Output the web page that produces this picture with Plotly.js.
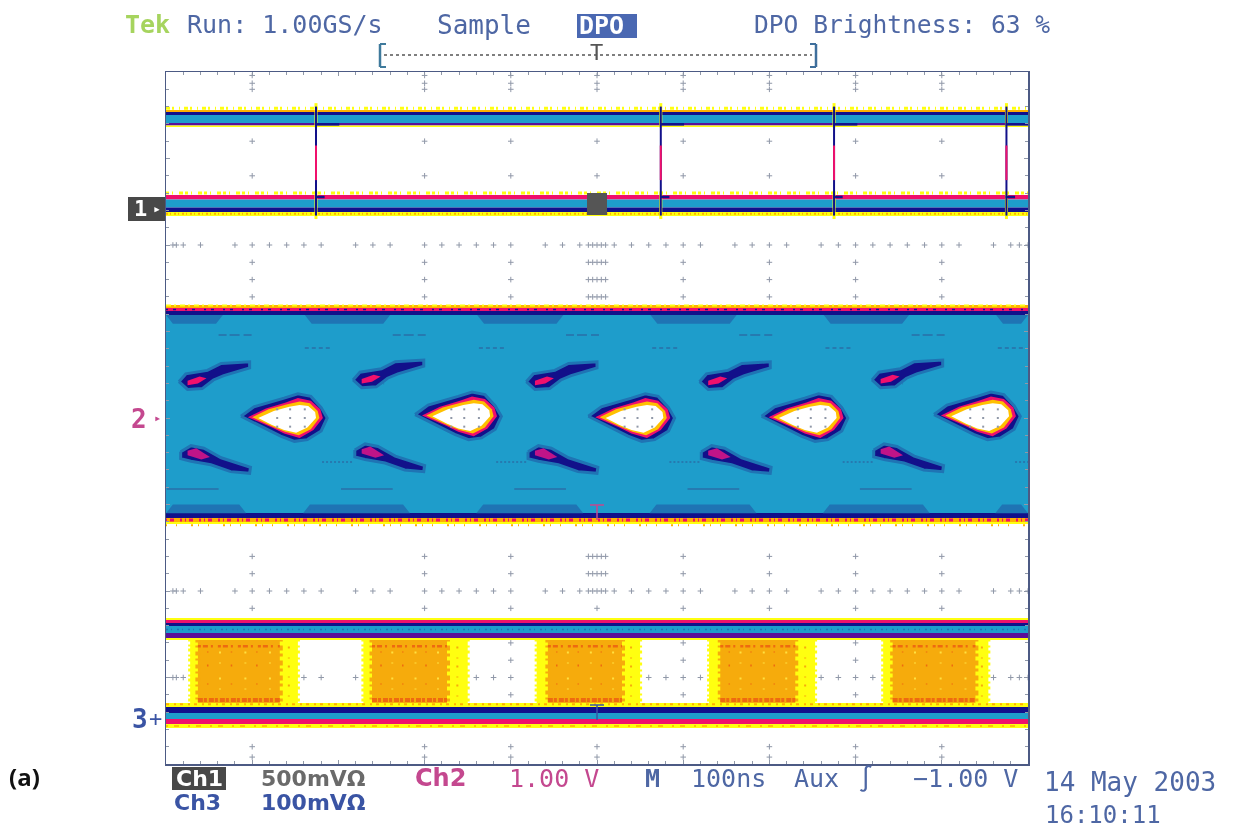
<!DOCTYPE html>
<html><head><meta charset="utf-8">
<script src="https://cdn.plot.ly/plotly-3.0.1.min.js"></script>
<style>html,body{margin:0;padding:0;background:#fff}#plot{width:1235px;height:830px;filter:blur(0.45px)}</style>
</head><body><div id="plot"></div>
<script>
// Time in ns (100 ns/div), vertical position in graticule divisions from the bottom.
const ch1TopLevels = [7.561,7.538,7.503,7.410,7.382,7.364];
const ch1BotLevels = [6.578,6.526,6.434,6.382,6.335];
const ch2Levels    = [5.306,5.272,5.237,5.191,2.902,2.844,2.798,2.775];
const ch3TopLevels = [1.688,1.665,1.630,1.595,1.514,1.457,1.434];
const ch3BotLevels = [0.705,0.659,0.590,0.520,0.462,0.416];

const ch1EdgeTimes = [174,574,775,975];
const eyeTimes  = [141,343,544,745,945];
const eyeLevels = [4.0,4.02,4.0,4.0,4.02];

const eyeHaloT = [-54,-39,-4,12,27,39,46,39,23,8,-8,-35];
const eyeHaloV = [.02,.13,.23,.28,.25,.12,0,-.15,-.25,-.27,-.21,-.08];
const eyeHotT  = [-46,-25,-2,12,27,38,41,30,14,-4,-18,-33];
const eyeHotV  = [.01,.11,.18,.23,.20,.10,.0,-.14,-.23,-.18,-.11,-.05];
const eyeWarmT = [-41,-22,0,14,26,35,37,27,13,-3,-17,-30];
const eyeWarmV = [.01,.10,.16,.19,.17,.08,.0,-.13,-.20,-.16,-.10,-.04];
const eyeOpenT = [-34,-16,2,14,24,32,33,23,10,-4,-18,-28];
const eyeOpenV = [.0,.08,.13,.15,.14,.07,.0,-.11,-.17,-.14,-.08,-.03];

const upperFlankT = [-126,-118,-93,-77,-44,-44,-74,-86,-99,-116];
const upperFlankV = [.42,.51,.55,.63,.65,.58,.49,.44,.34,.33];
const upperCoreT  = [-116,-102,-94,-104,-116];
const upperCoreV  = [.43,.48,.46,.40,.38];
const lowerFlankT = [-124,-112,-97,-77,-43,-44,-66,-89,-112,-124];
const lowerFlankV = [-.39,-.32,-.35,-.46,-.57,-.64,-.62,-.54,-.50,-.47];
const lowerCoreT  = [-116,-106,-90,-100,-116];
const lowerCoreV  = [-.38,-.35,-.45,-.48,-.43];

const topPatchStart = [0,161,361,562,763,963];
const topPatchEnd   = [66,260,461,662,862,1000];
const botPatchStart = [0,159,360,561,762,962];
const botPatchEnd   = [93,283,484,685,886,1000];

const burstOuterStart = [28,229,430,630,832];
const burstOuterEnd   = [153,350,550,753,954];
const burstInnerStart = [37,239,443,643,843];
const burstInnerEnd   = [132,326,529,730,939];
const burstSpeckleShare = [0.12,0.27,0.41,0.58,0.72,0.88];

const gridColumnTimes = [100,300,400,500,600,700,800,900];
const gridColumnLevels = [7.96,7.87,7.8,7.2,6.8,5.8,5.6,5.4,2.4,2.2,1.8,1.6,1.4,1.2,0.8,0.2,0.08];
const gridRowLevels = [6,2,1];
const gridRowTimes = [8,12,20,40,80,100,120,140,160,180,220,240,260,300,320,340,360,380,400,440,460,480,490,495,500,505,510,520,540,560,580,600,620,660,680,700,720,760,780,800,820,840,860,880,900,920,960,980,990,1000];
const centreTimes = [490,495,505,510];
const centreLevels = [5.8,5.6,5.4,2.4,2.2];

const C = {yellow:'#ffff10',amber:'#ffb000',pink:'#f0106c',red:'#ee6a10',navy:'#12108a',purple:'#5a1098',blue:'#1e9dcb',patch:'#1f74b4',line:'#2a6fa8',gold:'#f6ab0c',frame:'#4c5a84',grid:'#9098a8'};
const traces = [];
function poly(x,y,fill,lineColor,lineW){
  traces.push({type:'scatter',mode:'lines',x:x.concat(x[0]),y:y.concat(y[0]),fill:'toself',fillcolor:fill,
    line:{color:lineColor||fill,width:lineW||0},hoverinfo:'skip'});
}
function bands(levels,colors){
  for(let i=0;i<colors.length;i++) poly([0,1000,1000,0],[levels[i],levels[i],levels[i+1],levels[i+1]],colors[i]);
}
function seg(x,y,color,w,dash){
  traces.push({type:'scatter',mode:'lines',x:x,y:y,line:{color:color,width:w,dash:dash||'solid'},hoverinfo:'skip'});
}
function shifted(t,v,t0,v0){ return [t.map(d=>d+t0), v.map(d=>d+v0)]; }

// Graticule
const colX=[],colY=[];
gridColumnTimes.forEach(t=>gridColumnLevels.forEach(v=>{colX.push(t);colY.push(v);}));
const rowX=[],rowY=[];
gridRowLevels.forEach(v=>gridRowTimes.forEach(t=>{rowX.push(t);rowY.push(v);}));
centreTimes.forEach(t=>centreLevels.forEach(v=>{rowX.push(t);rowY.push(v);}));
traces.push({type:'scatter',mode:'markers',x:colX.concat(rowX),y:colY.concat(rowY),
  marker:{symbol:'cross-thin',size:4,line:{color:C.grid,width:1}},hoverinfo:'skip'});

// Channel 3 bursts (under the rails)
burstOuterStart.forEach((s,i)=>{
  const a=burstInnerStart[i], b=burstInnerEnd[i];
  poly([s,burstOuterEnd[i],burstOuterEnd[i],s],[1.47,1.47,0.68,0.68],C.yellow);
  poly([a,b,b,a],[1.47,1.47,0.68,0.68],C.gold);
  seg([s,s],[1.45,0.70],C.yellow,4,'3px,3px,2px,2px');
  seg([burstOuterEnd[i],burstOuterEnd[i]],[1.45,0.70],C.yellow,4,'3px,4px,2px,3px');
  seg([a,a],[1.45,0.70],C.gold,5,'4px,3px,2px,4px');
  seg([b,b],[1.45,0.70],C.gold,6,'3px,4px,5px,3px');
  seg([b+(burstOuterEnd[i]-b)/2,b+(burstOuterEnd[i]-b)/2],[1.45,0.70],C.gold,2,'1px,7px,2px,9px');
  seg([a,b],[1.36,1.36],C.red,2.5,'3px,2px,5px,3px,2px,5px');
  seg([a,b],[0.74,0.74],C.red,4,'5px,1px,3px,2px');
  burstSpeckleShare.forEach((f,k)=>{
    const t=a+(b-a)*f;
    seg([t,t],[1.3,0.8],k%2?'#ffe040':C.red,k%2?2:1.5,k%2?'2px,9px,1px,14px':'1px,12px,2px,17px');
  });
});

// Rails
seg([0,1000],[7.582,7.582],C.yellow,3,'4px,2px,2px,5px,1px,4px');
bands(ch1TopLevels,[C.amber,C.navy,C.blue,C.purple,C.yellow]);
seg([0,1000],[6.60,6.60],C.yellow,3,'3px,3px,1px,6px,4px,2px');
bands(ch1BotLevels,[C.pink,C.blue,C.navy,C.yellow]);
seg([0,1000],[6.362,6.362],C.amber,2,'2px,2px,1px,3px');
bands(ch2Levels,[C.amber,C.pink,C.navy,C.blue,C.navy,C.amber,C.yellow]);
seg([0,1000],[5.30,5.30],C.yellow,2,'5px,3px,2px,4px');
seg([0,1000],[5.255,5.255],C.navy,1.5,'2px,5px,3px,9px');
seg([0,1000],[2.822,2.822],C.pink,3,'1px,3px,4px,6px,2px,3px');
seg([0,1000],[2.76,2.76],C.amber,2,'1px,9px,1px,14px,2px,5px');
bands(ch3TopLevels,[C.yellow,C.pink,C.navy,C.blue,C.purple,C.yellow]);
bands(ch3BotLevels,[C.yellow,C.navy,C.blue,C.pink,C.yellow]);
seg([0,1000],[0.69,0.69],C.amber,2,'3px,5px,2px,4px');
seg([0,1000],[0.44,0.44],C.amber,1.5,'2px,6px,5px,9px');
seg([0,1000],[1.555,1.555],C.patch,1.5,'2px,3px,1px,5px');

// Channel 1 transitions
ch1EdgeTimes.forEach(t=>{
  seg([t,t],[7.36,7.64],C.yellow,3);
  seg([t,t],[6.30,6.62],C.yellow,3);
  seg([t,t],[6.34,7.6],C.navy,2);
  seg([t,t],[6.75,7.15],C.pink,2);
  seg([t-1,t+27],[7.395,7.395],C.navy,2.5);
  seg([t-1,t+10],[6.555,6.555],C.navy,2.5);
});

// Channel 2 density structure
topPatchStart.forEach((s,i)=>poly([s,topPatchEnd[i],topPatchEnd[i]-8,s+8],[5.19,5.19,5.09,5.09],C.patch));
botPatchStart.forEach((s,i)=>poly([s+8,botPatchEnd[i]-8,botPatchEnd[i],s],[3.0,3.0,2.9,2.9],C.patch));
eyeTimes.forEach(t=>{
  seg([t-80,t-40],[4.96,4.96],C.line,1.5,'8px,3px,10px,4px');
  seg([t-140,t-80],[3.18,3.18],C.line,1.5);
  seg([t+20,t+50],[4.81,4.81],C.line,1.5,'4px,3px');
  seg([t-122,t-90],[4.4,4.4],C.line,2,'1px,2px');
  seg([t+40,t+75],[3.49,3.49],C.line,1.5,'2px,2px');
});
eyeTimes.forEach((t,i)=>{
  const v=eyeLevels[i];
  let a;
  a=shifted(upperFlankT,upperFlankV,t,v); poly(a[0],a[1],C.navy,C.patch,3);
  a=shifted(upperCoreT,upperCoreV,t,v);   poly(a[0],a[1],C.pink);
  a=shifted(lowerFlankT,lowerFlankV,t,v); poly(a[0],a[1],C.navy,C.patch,3);
  a=shifted(lowerCoreT,lowerCoreV,t,v);   poly(a[0],a[1],'#c01488');
  a=shifted(eyeHaloT,eyeHaloV,t,v);       poly(a[0],a[1],C.navy,C.patch,3);
  a=shifted(eyeHotT,eyeHotV,t,v);         poly(a[0],a[1],C.pink);
  a=shifted(eyeWarmT,eyeWarmV,t,v);       poly(a[0],a[1],'#ffc000');
  a=shifted(eyeOpenT,eyeOpenV,t,v);       poly(a[0],a[1],'#ffffff');
});
traces.push({type:'scatter',mode:'markers',
  x:eyeTimes.flatMap(t=>[t-12,t-12,t-12,t+3,t+3,t+3,t+20,t+20,t+20]),
  y:eyeTimes.flatMap(()=>[4.1,4.0,3.9,4.1,4.0,3.9,4.1,4.0,3.9]),
  marker:{symbol:'square',size:2,color:C.grid},hoverinfo:'skip'});

// Text placed from window pixels
const L=166,T=72,W=862,H=692;
const px=x=>(x-L)/W, py=y=>(T+H-y)/H;
const MONO='"DejaVu Sans Mono", monospace', SANS='"DejaVu Sans", sans-serif';
function txt(text,x,y,color,size,extra){
  return Object.assign({text:text,xref:'paper',yref:'paper',x:px(x),y:py(y),xanchor:'left',yanchor:'middle',
    showarrow:false,borderpad:0,font:{family:MONO,size:size||25,color:color}},extra||{});
}
const bold=(fam,size,color)=>({font:{family:fam,size:size,color:color,weight:700}});
const BLUE='#4e67a4',MAG='#c4488f',INK='#3a54a4';
const annotations=[
  txt('Tek',124,25,'#a6d45e',25,bold(MONO,25,'#a6d45e')),
  txt('Run: 1.00GS/s',186,25,BLUE,25),
  txt('Sample',436,25,BLUE,26),
  txt('DPO',578,26,'#ffffff',25,bold(MONO,25,'#ffffff')),
  txt('DPO Brightness: 63 %',753,25,BLUE,24.6),
  txt('T',589,53,'#555555',22),
  txt('1',133,209,'#ffffff',22,bold(MONO,22,'#ffffff')),
  txt('▸',152,209,'#ffffff',13),
  txt('2',130,419,MAG,26,bold(MONO,26,MAG)),
  txt('▸',153,418,MAG,12),
  txt('3',131,719,INK,26,bold(MONO,26,INK)),
  txt('+',148,718,INK,22),
  txt('Ch1',175,778,'#ffffff',22,bold(SANS,22,'#ffffff')),
  txt('500mVΩ',260,778,'#6a6a6a',23,bold(SANS,22,'#6a6a6a')),
  txt('Ch2',414,778,MAG,24,bold(SANS,24,MAG)),
  txt('1.00 V',508,778,MAG,25),
  txt('M',644,778,BLUE,25,bold(MONO,25,BLUE)),
  txt('100ns',690,778,BLUE,25),
  txt('Aux',793,778,BLUE,25),
  txt('∫',857,778,BLUE,25),
  txt('−1.00 V',912,778,BLUE,25),
  txt('Ch3',173,803,INK,22,bold(SANS,22,INK)),
  txt('100mVΩ',260,803,INK,22,bold(SANS,22,INK)),
  txt('14 May 2003',1043,782,BLUE,26),
  txt('16:10:11',1044,815,BLUE,24),
  txt('(a)',8,776,'#111111',24,bold('"Open Sans", sans-serif',24,'#111111'))
];
const rect=(x0,y0,x1,y1,c,layer)=>({type:'rect',xref:'paper',yref:'paper',x0:px(x0),x1:px(x1),y0:py(y0),y1:py(y1),fillcolor:c,line:{width:0},layer:layer||'below'});
const ln=(x0,y0,x1,y1,c,w,d)=>({type:'line',xref:'paper',yref:'paper',x0:px(x0),x1:px(x1),y0:py(y0),y1:py(y1),line:{color:c,width:w,dash:d||'solid'},layer:'above'});
const shapes=[
  rect(577,14,637,38,'#4a68b2'),
  rect(128,197,165,221,'#484848'),
  rect(172,767,226,790,'#484848'),
  rect(587,193,607,215,'#555555','above'),
  ln(384,55,812,55,'#555555',1.5,'dot'),
  ln(380,44,380,67,'#3f7a9c',2.5), ln(380,44,386,44,'#3f7a9c',2), ln(380,67,386,67,'#3f7a9c',2),
  ln(816,44,816,67,'#3f6f9c',2.5), ln(810,44,816,44,'#3f6f9c',2), ln(810,67,816,67,'#3f6f9c',2),
  ln(590,505,604,505,MAG,1.5), ln(597,505,597,520,MAG,1.5),
  ln(590,705,604,705,INK,1.5), ln(597,705,597,720,INK,1.5)
];

const axis=(range,dtick,minor)=>({range:range,dtick:dtick,showgrid:false,zeroline:false,showticklabels:false,
  showline:true,mirror:'allticks',linecolor:C.frame,linewidth:1.5,ticks:'inside',ticklen:4,tickcolor:C.grid,tickwidth:1,
  minor:{dtick:minor,ticks:'inside',ticklen:3,tickcolor:C.grid,tickwidth:1,showgrid:false},fixedrange:true});

Plotly.newPlot('plot',traces,{
  width:1235,height:830,showlegend:false,paper_bgcolor:'#ffffff',plot_bgcolor:'#ffffff',
  margin:{l:L,r:1235-L-W,t:T,b:830-T-H,pad:0},
  xaxis:axis([0,1000],100,20),
  yaxis:axis([0,8],1,0.2),
  annotations:annotations,shapes:shapes
},{displayModeBar:false,staticPlot:true});
</script></body></html>
